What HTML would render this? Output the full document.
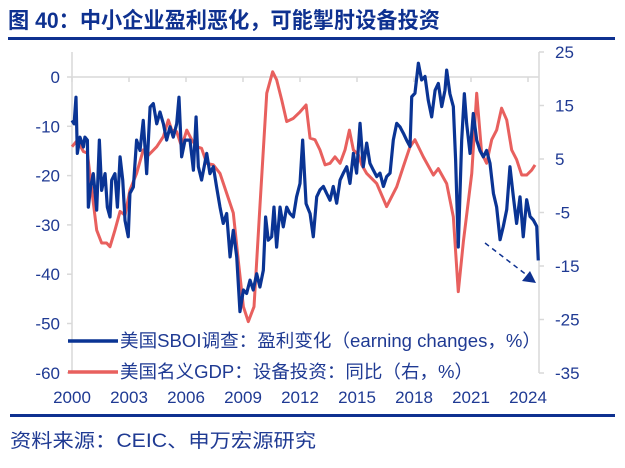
<!DOCTYPE html>
<html><head><meta charset="utf-8"><style>
body{margin:0;background:#fff;}
svg text{font-family:"Liberation Sans","Noto Sans CJK SC",sans-serif;}
</style></head><body>
<svg width="625" height="463" viewBox="0 0 625 463" xmlns="http://www.w3.org/2000/svg">
<text x="8" y="28" font-size="22" font-weight="bold" fill="#0e3190" textLength="432" lengthAdjust="spacingAndGlyphs">图 40：中小企业盈利恶化，可能掣肘设备投资</text>
<rect x="8" y="37" width="607" height="3" fill="#0e3190"/>
<rect x="10" y="414" width="605" height="3" fill="#0e3190"/>
<text x="10" y="447" font-size="19" fill="#1f3a93" textLength="306" lengthAdjust="spacingAndGlyphs">资料来源：CEIC、申万宏源研究</text>
<g id="axes"></g>
<g id="series"></g>
<g>
<line x1="485" y1="243" x2="528" y2="276" stroke="#0e3190" stroke-width="1.5" stroke-dasharray="5,4"/>
<polygon points="536,283 522,281 530,271" fill="#0e3190"/>
</g>
<g>
<line x1="68" y1="341" x2="118" y2="341" stroke="#0a3494" stroke-width="3.5"/>
<text x="120" y="347" font-size="18" fill="#1f3a93" textLength="421" lengthAdjust="spacingAndGlyphs">美国SBOI调查：盈利变化（earning changes，%）</text>
<line x1="68" y1="372" x2="118" y2="372" stroke="#e8605e" stroke-width="3.5"/>
<text x="120" y="378" font-size="18" fill="#1f3a93" textLength="353" lengthAdjust="spacingAndGlyphs">美国名义GDP：设备投资：同比（右，%）</text>
</g>
</svg>
<script>
const leftTicks=[0,-10,-20,-30,-40,-50,-60];
const rightTicks=[25,15,5,-5,-15,-25,-35];
const xTicks=[2000,2003,2006,2009,2012,2015,2018,2021,2024];
const sboiYears=[2000.00,2000.11,2000.21,2000.28,2000.42,2000.60,2000.68,2000.81,2000.86,2000.98,2001.12,2001.30,2001.44,2001.56,2001.74,2001.86,2002.00,2002.09,2002.26,2002.39,2002.53,2002.67,2002.79,2002.96,2003.05,2003.23,2003.40,2003.58,2003.75,2003.93,2004.11,2004.28,2004.46,2004.63,2004.81,2004.98,2005.16,2005.33,2005.51,2005.63,2005.77,2005.95,2006.21,2006.39,2006.53,2006.65,2006.82,2007.09,2007.26,2007.44,2007.61,2007.79,2007.96,2008.14,2008.32,2008.49,2008.67,2008.84,2009.02,2009.19,2009.37,2009.54,2009.72,2009.89,2010.07,2010.19,2010.33,2010.51,2010.63,2010.77,2010.95,2011.12,2011.30,2011.47,2011.65,2011.82,2012.00,2012.14,2012.32,2012.53,2012.70,2012.88,2013.05,2013.23,2013.40,2013.58,2013.75,2013.93,2014.11,2014.28,2014.46,2014.63,2014.81,2014.98,2015.16,2015.33,2015.51,2015.68,2015.86,2016.04,2016.21,2016.39,2016.56,2016.74,2016.91,2017.09,2017.26,2017.44,2017.61,2017.79,2017.88,2018.05,2018.23,2018.40,2018.58,2018.75,2018.93,2019.11,2019.28,2019.46,2019.63,2019.72,2019.89,2020.07,2020.19,2020.33,2020.51,2020.65,2020.77,2020.95,2021.12,2021.30,2021.47,2021.65,2021.82,2022.00,2022.18,2022.35,2022.53,2022.70,2022.88,2023.05,2023.23,2023.40,2023.58,2023.75,2023.93,2024.11,2024.28,2024.46,2024.54];
const sboiValues=[-8.8,-9.5,-4.1,-15.5,-12.2,-14.2,-12.2,-12.8,-26.4,-22.3,-19.6,-27.0,-12.8,-23.0,-19.6,-26.4,-28.4,-20.9,-19.6,-26.4,-16.2,-20.9,-29.1,-32.4,-23.6,-22.3,-12.8,-14.9,-8.8,-19.6,-6.1,-5.4,-9.5,-7.1,-9.5,-12.8,-10.1,-12.2,-9.5,-4.1,-16.2,-12.8,-12.8,-18.9,-8.1,-18.2,-20.9,-15.5,-19.6,-18.2,-22.3,-26.4,-29.7,-27.7,-36.5,-31.1,-36.5,-47.6,-43.2,-43.9,-41.2,-43.2,-39.9,-42.6,-39.2,-28.4,-33.1,-32.4,-26.4,-34.5,-26.4,-30.4,-26.4,-27.7,-28.4,-24.3,-21.6,-12.8,-25.7,-27.7,-32.4,-24.3,-22.9,-22.2,-23.6,-25.0,-22.2,-25.6,-20.9,-19.5,-18.2,-21.6,-15.5,-19.5,-9.4,-18.2,-13.4,-17.5,-18.9,-20.2,-19.5,-22.2,-20.2,-19.5,-12.8,-9.4,-10.1,-11.4,-12.8,-14.1,-4.0,-3.3,2.8,-0.6,0.1,-4.7,-8.1,-2.7,-1.3,-6.0,-2.7,1.4,-3.4,-6.0,-16.8,-34.5,-12.8,-3.4,-9.4,-15.5,-7.4,-12.8,-14.9,-16.2,-14.9,-17.5,-23.6,-26.4,-33.0,-30.3,-26.9,-18.2,-24.3,-29.7,-24.3,-32.4,-24.9,-28.3,-29.0,-30.3,-37.2];
const gdpYears=[2000.00,2000.28,2000.60,2000.81,2001.04,2001.30,2001.56,2001.82,2002.00,2002.26,2002.53,2002.79,2003.05,2003.40,2003.75,2004.02,2004.46,2004.81,2005.07,2005.25,2005.51,2005.77,2006.04,2006.30,2006.56,2006.82,2007.09,2007.44,2007.79,2008.14,2008.49,2008.75,2009.02,2009.28,2009.58,2009.89,2010.25,2010.56,2010.77,2011.04,2011.30,2011.65,2012.00,2012.32,2012.53,2012.79,2013.05,2013.32,2013.58,2013.84,2014.11,2014.37,2014.60,2014.81,2015.07,2015.25,2015.51,2016.04,2016.56,2017.09,2017.44,2017.79,2018.05,2018.49,2019.02,2019.28,2019.72,2020.07,2020.33,2020.60,2021.04,2021.30,2021.56,2021.82,2022.09,2022.35,2022.61,2022.88,2023.14,2023.40,2023.67,2023.93,2024.19,2024.37];
const gdpValues=[7.3,8.5,6.4,6.1,-0.8,-8.3,-10.7,-10.7,-11.4,-8.3,-4.8,-5.5,-0.8,2.3,6.7,5.7,7.3,9.2,12.3,10.4,10.1,7.3,10.4,8.6,7.3,7.0,4.2,3.9,2.3,-1.4,-5.1,-13.9,-22.6,-25.4,-22.6,-3.9,17.3,21.3,19.8,16.0,12.0,12.6,13.8,15.1,8.9,8.6,6.7,3.9,4.2,5.4,4.2,6.7,10.4,6.7,5.8,3.9,2.3,0.4,-3.9,-0.2,3.6,7.3,8.6,5.4,2.0,3.2,0.4,-5.8,-19.8,-10.4,2.3,17.3,6.1,4.2,8.6,10.4,14.5,12.3,6.7,4.9,2.0,2.0,2.9,3.9];

const NS="http://www.w3.org/2000/svg";
const xS=y=>72+(y-2000)*19;
const yL=v=>77-v*4.93;
const yR=v=>52+(25-v)*5.35;
function mk(tag,attrs,parent){const e=document.createElementNS(NS,tag);for(const k in attrs)e.setAttribute(k,attrs[k]);parent.appendChild(e);return e;}
const ax=document.getElementById('axes');
const ser=document.getElementById('series');
const grey="#d9d9d9", tc="#1f3a93";
let l=mk('line',{x1:72,y1:52,x2:72,y2:373,stroke:grey,'stroke-width':1.5},ax);


l=mk('line',{x1:539,y1:52,x2:539,y2:373,stroke:grey,'stroke-width':1.5},ax);


l=mk('line',{x1:72,y1:yL(0),x2:539,y2:yL(0),stroke:grey,'stroke-width':1.5},ax);


leftTicks.forEach(v=>{
  mk('line',{x1:67,y1:yL(v),x2:72,y2:yL(v),stroke:grey,'stroke-width':1.5},ax);
  const t=mk('text',{x:60,y:yL(v)+6,'font-size':17,'text-anchor':'end',fill:tc},ax);
  t.textContent=v;
  
  
});
rightTicks.forEach(v=>{
  mk('line',{x1:539,y1:yR(v),x2:544,y2:yR(v),stroke:grey,'stroke-width':1.5},ax);
  const t=mk('text',{x:555,y:yR(v)+6,'font-size':17,fill:tc},ax);
  t.textContent=v;
  
  
});
xTicks.forEach(y=>{
  mk('line',{x1:xS(y),y1:yL(0),x2:xS(y),y2:yL(0)+5,stroke:grey,'stroke-width':1.5},ax);
  const t=mk('text',{x:xS(y),y:403,'font-size':17,'text-anchor':'middle',fill:tc},ax);
  t.textContent=y;
  
  
});
const gp=mk('polyline',{points:gdpYears.map((y,i)=>xS(y)+','+yR(gdpValues[i])).join(' '),fill:'none',stroke:'#e8605e','stroke-width':3,'stroke-linejoin':'round'},ser);


const sp=mk('polyline',{points:sboiYears.map((y,i)=>xS(y)+','+yL(sboiValues[i])).join(' '),fill:'none',stroke:'#0a3494','stroke-width':3.2,'stroke-linejoin':'round'},ser);


</script>
</body></html>
